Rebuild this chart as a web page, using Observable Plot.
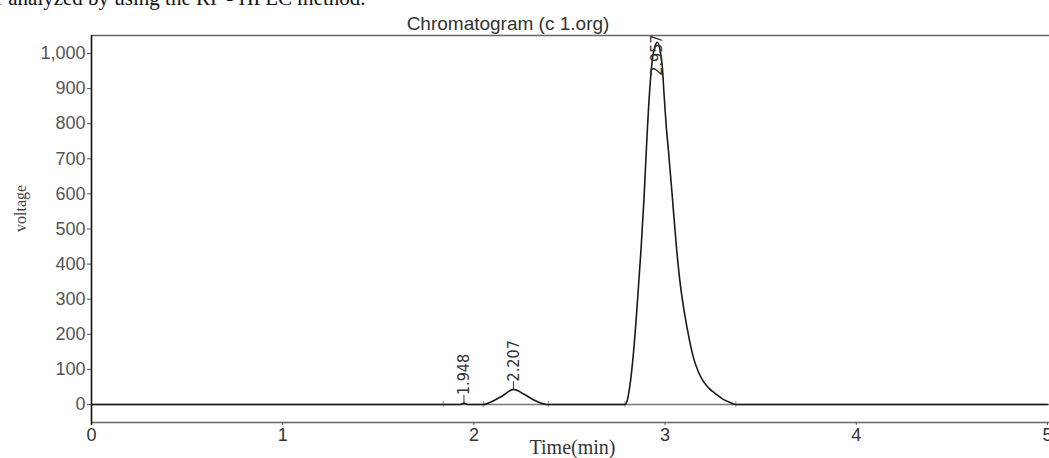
<!DOCTYPE html>
<html>
<head>
<meta charset="utf-8">
<script src="https://cdn.jsdelivr.net/npm/d3@7"></script>
<script src="https://cdn.jsdelivr.net/npm/@observablehq/plot@0.6"></script>
<style>
  html, body { margin: 0; padding: 0; background: #fff; overflow: hidden; width: 1049px; height: 458px; }
  #wrap { position: relative; width: 1049px; height: 458px; overflow: hidden; }
  #lead { position: absolute; left: -4px; top: -14px; font-family: "Liberation Serif", "Times New Roman", serif; font-size: 21px; color: #111; white-space: nowrap; }
  #title { position: absolute; left: 0; width: 1016px; top: 13px; text-align: center; font-family: "Liberation Sans", Arial, sans-serif; font-size: 19px; color: #333; white-space: nowrap; }
  #chart { position: absolute; left: 0; top: 0; width: 1060px; }
  #chart svg { max-width: none !important; }
</style>
</head>
<body>
<div id="wrap">
  <div id="chart"></div>
  <div id="lead">r analyzed by using the RP - HPLC method.</div>
  <div id="title">Chromatogram (c 1.org)</div>
</div>
<script>
// Chromatogram trace (time in min, signal in voltage units)
const times = [0, 1.84, 1.93, 1.948, 1.965, 2.05, 2.10, 2.15, 2.207, 2.26, 2.31, 2.35, 2.38, 2.40,
  2.79, 2.80, 2.815, 2.835, 2.855, 2.875, 2.89, 2.905, 2.92, 2.935, 2.948, 2.96,
  2.975, 2.985, 2.995, 3.005, 3.018, 3.038, 3.059, 3.08, 3.10, 3.125, 3.15, 3.175, 3.20,
  3.23, 3.263, 3.30, 3.34, 3.37, 5];
const volts = [0, 0, 0, 4, 0, 0, 10, 25, 43, 30, 14, 4, 0, 0,
  0, 8, 50, 150, 290, 450, 590, 760, 900, 990, 1022, 1032,
  1005, 965, 880, 800, 720, 590, 450, 340, 265, 190, 130, 92, 66,
  46, 31, 16, 6, 0, 0];

// Peak annotations
const peakTimes = [1.948, 2.207, 2.957];
const peakNames = ["1.948", "2.207", "2.957"];
const peakHeights = [4, 43, 1032];

// Integration event markers on the baseline
const markerTimes = [1.84, 2.05, 2.39, 2.79, 3.37];

// Axis ticks
const xTicks = [0, 1, 2, 3, 4, 5];
const yTicks = [0, 100, 200, 300, 400, 500, 600, 700, 800, 900, 1000];

const trace = times.map((t, i) => ({t, v: volts[i]}));
const peaks = peakTimes.map((t, i) => ({t, name: peakNames[i], h: peakHeights[i]}));

const yMin = -51.3, yMax = 1051.3;
const narrow = "'Liberation Sans Narrow', 'DejaVu Sans Condensed', 'Arial Narrow', sans-serif";
const serif = "'Liberation Serif', 'Times New Roman', serif";

const chart = Plot.plot({
  width: 1060,
  height: 458,
  marginLeft: 91,
  marginRight: 13,
  marginTop: 35,
  marginBottom: 36,
  style: {fontFamily: "'Liberation Sans', Arial, sans-serif", fontSize: "18px", color: "#444", background: "transparent", maxWidth: "none"},
  x: {domain: [0, 5]},
  y: {domain: [yMin, yMax]},
  marks: [
    Plot.ruleY([yMax], {x1: 0, x2: 5.3, stroke: "#666", strokeWidth: 1.5}),
    Plot.ruleY([yMin], {x1: 0, x2: 5.3, stroke: "#666", strokeWidth: 1.5}),
    Plot.ruleY([0], {x1: 0, x2: 5.3, stroke: "#777", strokeWidth: 1.5}),
    Plot.ruleX(markerTimes, {x: d => d, y1: -9, y2: 9, stroke: "#999", strokeWidth: 1}),
    Plot.line(trace, {x: "t", y: "v", curve: "monotone-x", stroke: "#1a1a1a", strokeWidth: 1.6}),
    Plot.ruleX(peaks.filter(d => d.h < 900), {x: "t", y1: "h", y2: d => d.h + 22, stroke: "#333", strokeWidth: 1}),
    Plot.text(peaks, {x: "t", y: d => Math.min(d.h, 914), text: "name", rotate: -90, textAnchor: "start",
      dy: -8, fontFamily: narrow, fontSize: 16, fill: "#333"}),
    Plot.axisY({ticks: yTicks, tickFormat: d3.format(","), tickSize: 4, tickPadding: 2, label: null, stroke: "#555", fill: "#555"}),
    Plot.axisX({ticks: xTicks, tickFormat: d => String(d), tickSize: 3, tickPadding: 3, label: null, stroke: "#555", fill: "#333"}),
    Plot.ruleX([0], {y1: yMin - 8, y2: yMax, stroke: "#111", strokeWidth: 1.6}),
    Plot.text(["voltage"], {frameAnchor: "left", dx: -71, dy: 3, rotate: -90, text: d => d,
      fontFamily: serif, fontSize: 16, fill: "#444"}),
    Plot.text(["Time(min)"], {frameAnchor: "bottom", dx: 3, dy: 31, text: d => d, lineAnchor: "bottom",
      fontFamily: serif, fontSize: 20, fill: "#333"})
  ]
});
chart.style.maxWidth = "none";
document.getElementById("chart").appendChild(chart);
</script>
</body>
</html>
